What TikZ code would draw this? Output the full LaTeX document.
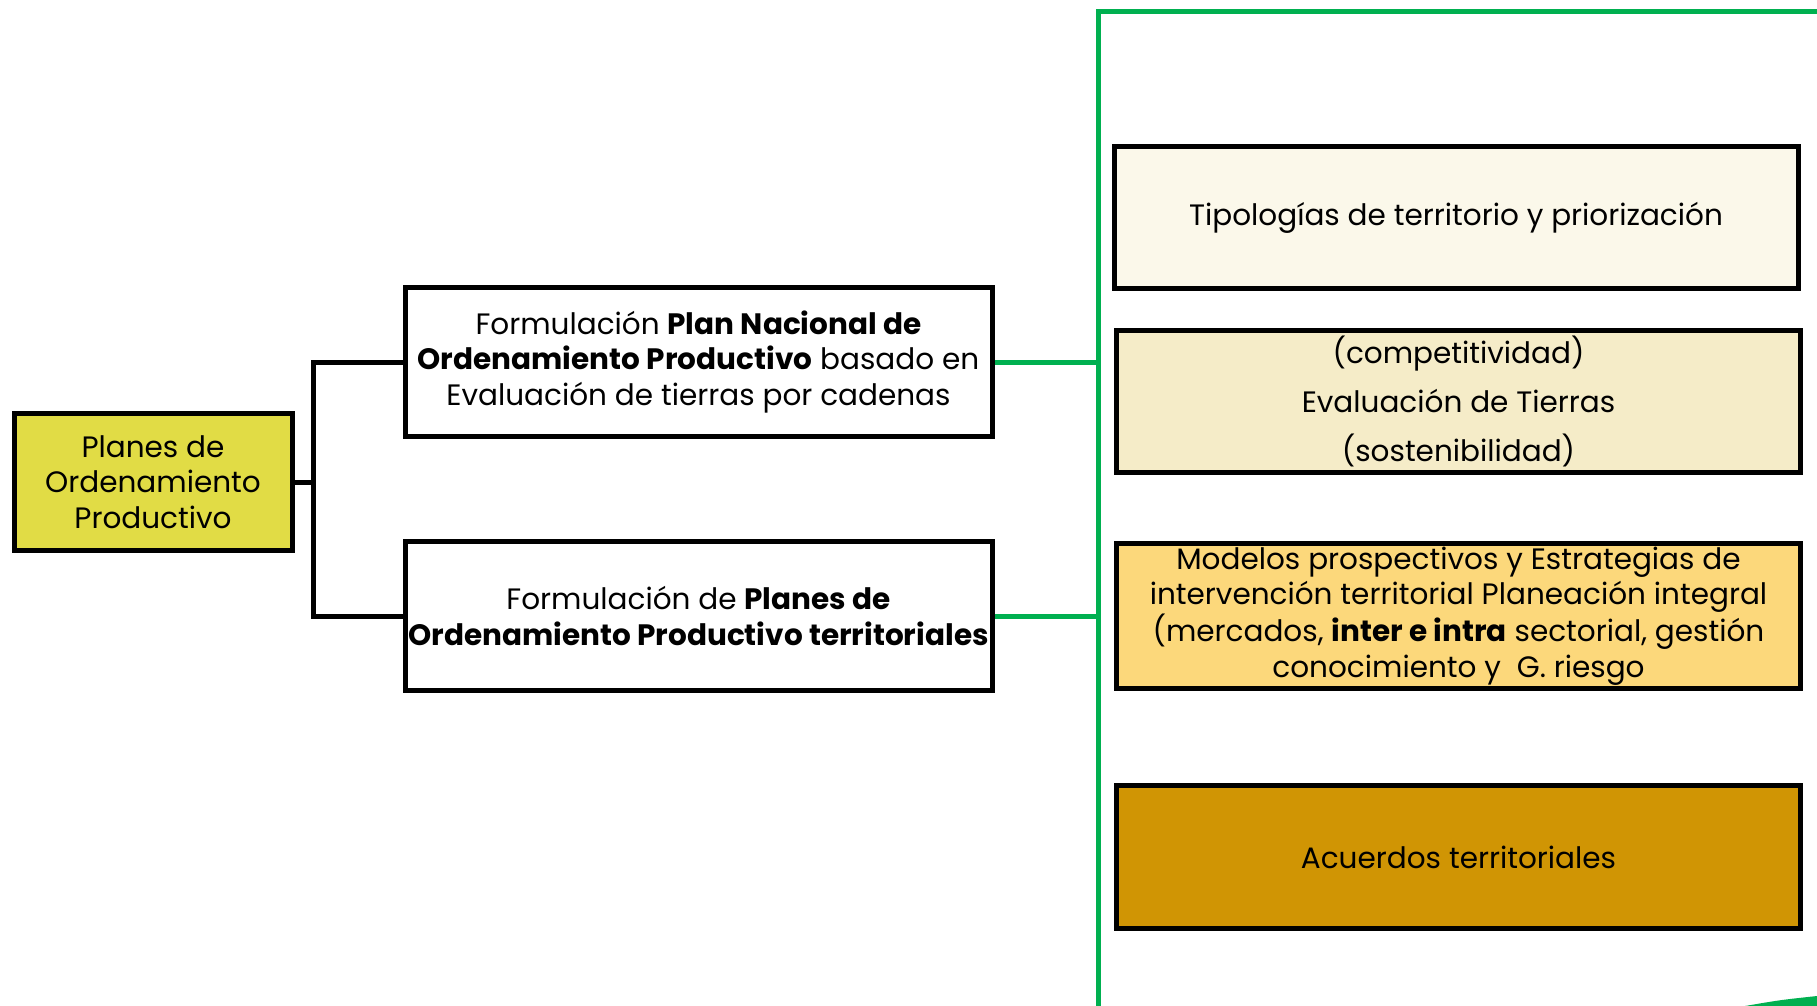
\documentclass[tikz,border=0pt]{standalone}
\usepackage{fontspec}
\setmainfont{Poppins}
\usetikzlibrary{positioning}
\definecolor{planyellow}{HTML}{E1DC45}
\definecolor{tipocream}{HTML}{FBF8EA}
\definecolor{evalbeige}{HTML}{F5ECC8}
\definecolor{modelgold}{HTML}{FCD87B}
\definecolor{acuerdoochre}{HTML}{D09504}
\definecolor{framegreen}{HTML}{00B050}

\begin{document}
\begin{tikzpicture}[x=1pt,y=1pt]
  \tikzset{box/.style={draw=black, line width=5pt, align=center, inner sep=0pt, font=\fontsize{29.5}{35.5}\selectfont},
    tree/.style={draw=black, line width=5pt},
    green-line/.style={draw=framegreen, line width=5pt}}
  \useasboundingbox (0,0) rectangle (1817,-1006);
    % Left Column Nodes
    \node [box, fill=planyellow, minimum width=278pt, minimum height=137pt] (planes-ordenamiento) at (153,-482) {Planes de\\Ordenamiento\\Productivo};
    \node [box, minimum width=587pt, minimum height=149pt, right=108pt of planes-ordenamiento, yshift=120pt] (plan-nacional) {Formulación \textbf{Plan Nacional de}\\\textbf{Ordenamiento Productivo} basado en\\Evaluación de tierras por cadenas};
    \node [box, minimum width=587pt, minimum height=149pt, below=100pt of plan-nacional] (planes-territoriales) {Formulación de \textbf{Planes de}\\\textbf{Ordenamiento Productivo territoriales}};
    % Right Column Nodes
    \node [box, fill=tipocream, minimum width=684pt, minimum height=142pt] (tipologias) at (1456,-217.5) {Tipologías de territorio y priorización};
    \node [box, fill=evalbeige, minimum width=684pt, minimum height=142pt, below=37pt of tipologias, xshift=2.5pt] (evaluacion) {(competitividad)\\[13.5pt]Evaluación de Tierras\\[13.5pt](sostenibilidad)};
    \node [box, fill=modelgold, minimum width=684pt, minimum height=145pt, below=66pt of evaluacion] (modelos) {Modelos prospectivos y Estrategias de\\intervención territorial Planeación integral\\(mercados, \textbf{inter e intra} sectorial, gestión\\conocimiento y~~G. riesgo};
    \node [box, fill=acuerdoochre, minimum width=684pt, minimum height=143pt, below=92pt of modelos] (acuerdos) {Acuerdos territoriales};
    % Green Frame
    \coordinate (frame-top) at (1098.5,-11.6);
    \coordinate (frame-bottom) at (1098.5,-1006);
    \draw[green-line] (frame-bottom) -- (frame-top) -- (1817,-11.6);
    \fill[framegreen] (1745,-1006) .. controls (1780,-1000) .. (1817,-996) -- (1817,-1006) -- cycle;
    % Connectors
    \coordinate (fork) at (313,-482);
    \draw[tree] (planes-ordenamiento) -- (fork);
    \draw[tree] (plan-nacional) -| (fork) |- (planes-territoriales);
    \draw[green-line] (plan-nacional) -- (plan-nacional -| frame-top);
    \draw[green-line] (planes-territoriales) -- (planes-territoriales -| frame-top);
  \end{tikzpicture}
\end{document}
